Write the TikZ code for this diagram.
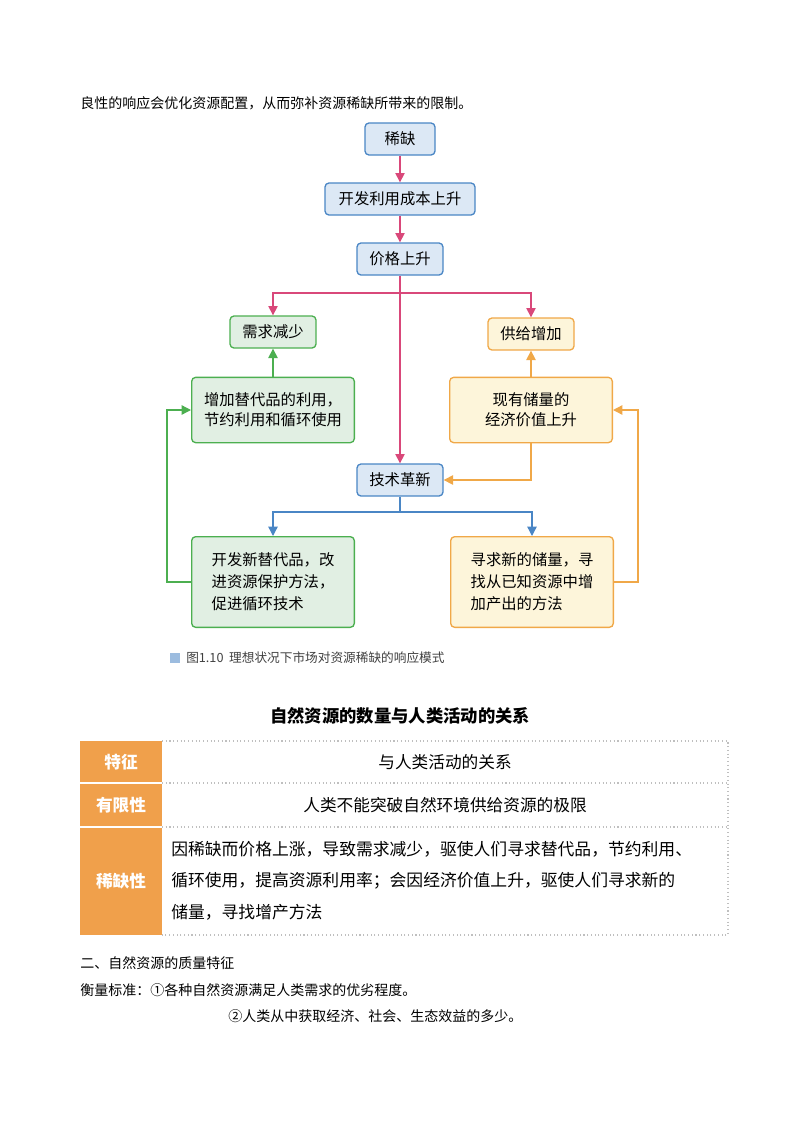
\documentclass[tikz,border=0pt]{standalone}
\usepackage{fontspec}
\setmainfont{Noto Sans CJK SC}
\usetikzlibrary{arrows.meta}
\definecolor{bB}{HTML}{4A86C5}\definecolor{bF}{HTML}{DCE8F5}
\definecolor{pk}{HTML}{D9487A}
\definecolor{gB}{HTML}{4CAF50}\definecolor{gF}{HTML}{E1EFE3}
\definecolor{oB}{HTML}{F0A848}\definecolor{oF}{HTML}{FDF5DA}
\definecolor{hd}{HTML}{F0A04B}
\begin{document}
\begin{tikzpicture}[x=0.75pt,y=-0.75pt,
 box/.style={draw,rounded corners=3pt,line width=1pt,font=\fontsize{11.5}{15}\selectfont,inner sep=0pt,align=center},
 bbox/.style={box,draw=bB,fill=bF},
 gbox/.style={box,draw=gB,fill=gF},
 obox/.style={box,draw=oB,fill=oF},
 arr/.style={line width=1pt,-{Triangle[length=7pt,width=7pt]}},
 txt/.style={font=\fontsize{10.5}{14}\selectfont,anchor=west,inner sep=0pt}]
\useasboundingbox (0,0) rectangle (800,1132);
\node[txt] (t0) at (80,103) {良性的响应会优化资源配置，从而弥补资源稀缺所带来的限制。};
\node[bbox,minimum width=52.5pt,minimum height=24pt] (a) at (400,139) {稀缺};
\node[bbox,minimum width=112.5pt,minimum height=24pt] (b) at (400,199) {开发利用成本上升};
\node[bbox,minimum width=64.5pt,minimum height=24pt] (c) at (400,259) {价格上升};
\node[gbox,minimum width=64.5pt,minimum height=24pt] (d) at (273,332) {需求减少};
\node[obox,minimum width=64.5pt,minimum height=24pt] (e) at (531,334) {供给增加};
\node[gbox,minimum width=122pt,minimum height=49pt,align=left] (f) at (273,410) {增加替代品的利用，\\节约利用和循环使用};
\node[obox,minimum width=122pt,minimum height=49pt] (g) at (531,410) {现有储量的\\经济价值上升};
\node[bbox,minimum width=64.5pt,minimum height=24pt] (h) at (400,480) {技术革新};
\node[gbox,minimum width=122pt,minimum height=68pt,align=left,font=\fontsize{11.5}{16.5}\selectfont] (i) at (273,582) {开发新替代品，改\\进资源保护方法，\\促进循环技术\hspace*{2em}};
\node[obox,minimum width=122pt,minimum height=68pt,align=left,font=\fontsize{11.5}{16.5}\selectfont] (j) at (532,582) {寻求新的储量，寻\\找从已知资源中增\\加产出的方法\hspace*{1em}};
\draw[arr,pk] (a) -- (b);
\draw[arr,pk] (b) -- (c);
\draw[arr,pk] (c) -- (h);
\draw[arr,pk] (400,293) -| (d);
\draw[arr,pk] (400,293) -| (e);
\draw[arr,gB] (f) -- (d);
\draw[arr,oB] (g) -- (e);
\draw[arr,oB] (g.south) |- (h.east);
\draw[arr,bB] (h.south) -- (400,512) -| (i.north);
\draw[arr,bB] (400,512) -| (j.north);
\draw[arr,gB] (i.west) -- (167,582) |- (f.west);
\draw[arr,oB] (j.east) -- (638,582) |- (g.east);
\fill[bB!55] (170,653) rectangle (180,663);
\node[txt,font=\fontsize{9.5}{12}\selectfont,text=black!75] (cap) at (186,658) {图1.10\ \ 理想状况下市场对资源稀缺的响应模式};
\node[font=\bfseries\fontsize{13}{16}\selectfont] (ttl) at (400,716) {自然资源的数量与人类活动的关系};
% table
\fill[hd] (80,741) rectangle (162,935);
\draw[black!25,dotted,line width=0.8pt] (162,741) -- (728,741) -- (728,935) -- (162,935);
\draw[black!25,dotted,line width=0.8pt] (162,783) -- (728,783) (162,827) -- (728,827);
\draw[white,line width=0.8pt] (80,783) -- (162,783) (80,827) -- (162,827);
\node[font=\bfseries\fontsize{12.5}{14}\selectfont,text=white] (h1) at (121,762) {特征};
\node[font=\bfseries\fontsize{12.5}{14}\selectfont,text=white] (h2) at (121,805) {有限性};
\node[font=\bfseries\fontsize{12.5}{14}\selectfont,text=white] (h3) at (121,881) {稀缺性};
\node[font=\fontsize{12.5}{14}\selectfont] (r1) at (445,762) {与人类活动的关系};
\node[font=\fontsize{12.5}{14}\selectfont] (r2) at (445,805) {人类不能突破自然环境供给资源的极限};
\node[font=\fontsize{12.6}{23.5}\selectfont,anchor=north west,align=left,inner sep=0pt] (r3) at (171,841) {因稀缺而价格上涨，导致需求减少，驱使人们寻求替代品，节约利用、\\循环使用，提高资源利用率；会因经济价值上升，驱使人们寻求新的\\储量，寻找增产方法};
\node[txt] (p1) at (80,963) {二、自然资源的质量特征};
\node[txt] (p2) at (80,990) {衡量标准：①各种自然资源满足人类需求的优劣程度。};
\node[txt] (p3) at (228,1016) {②人类从中获取经济、社会、生态效益的多少。};
\end{tikzpicture}
\end{document}
